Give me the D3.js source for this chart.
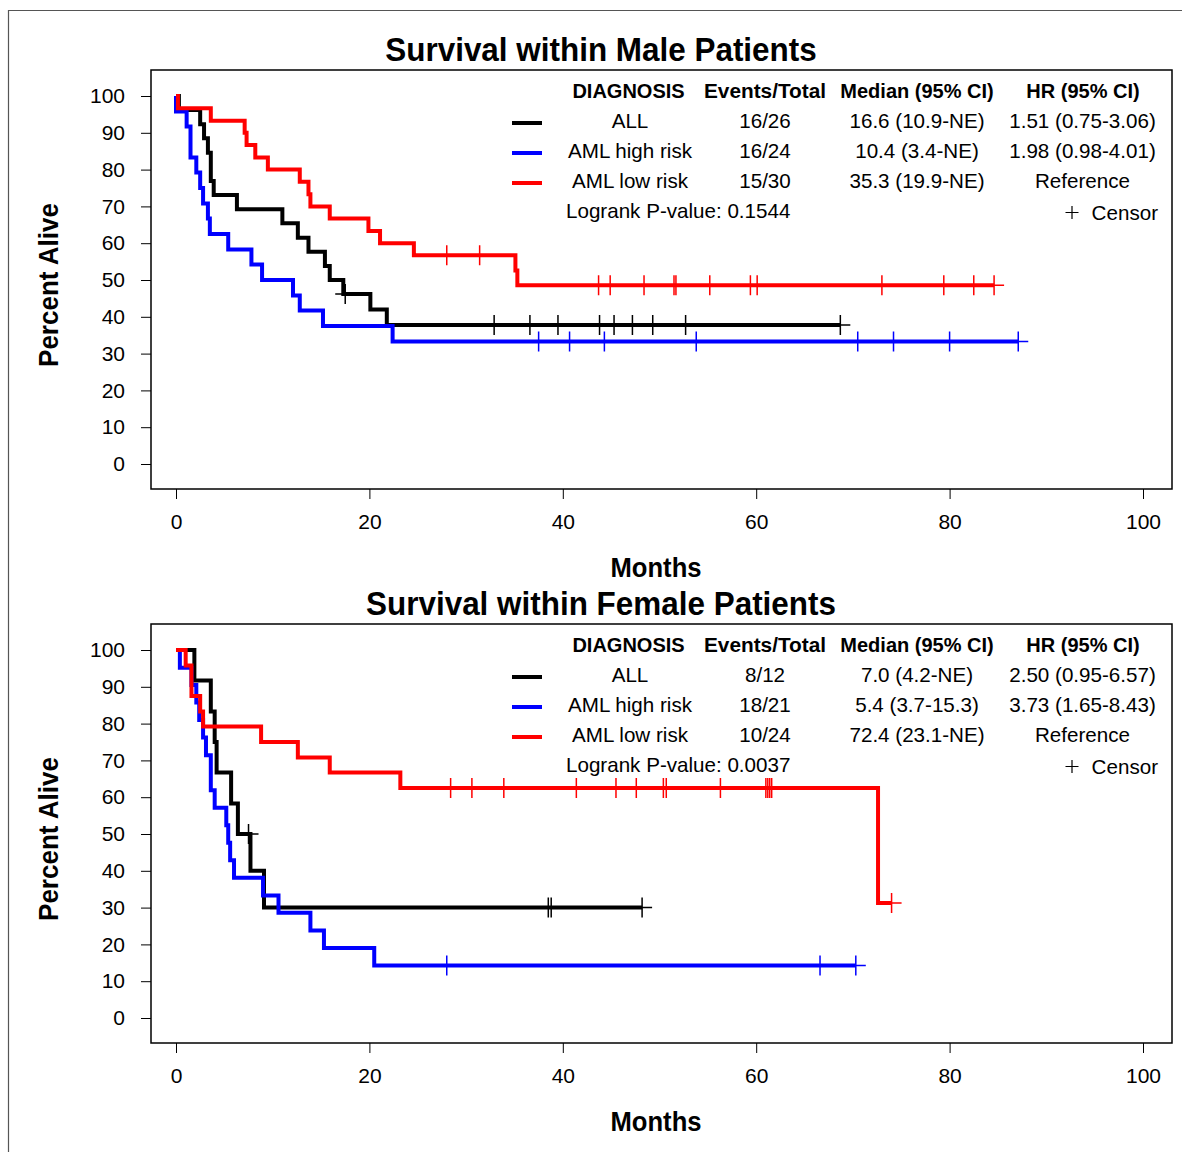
<!DOCTYPE html>
<html><head><meta charset="utf-8">
<script src="https://cdn.jsdelivr.net/npm/d3@7"></script>
<style>
body{margin:0;background:#fff}
svg{display:block}
text{font-family:"Liberation Sans",Arial,Helvetica,sans-serif;fill:#000}
</style>
</head><body>
<svg id="chart" width="1182" height="1152"></svg>
<script>
// ---------------- DATA ----------------
const groups = ["ALL", "AML high risk", "AML low risk"];
const xTicks = [0, 20, 40, 60, 80, 100];
const yTicks = [0, 10, 20, 30, 40, 50, 60, 70, 80, 90, 100];
const legendHeaders = ["DIAGNOSIS", "Events/Total", "Median (95% CI)", "HR (95% CI)"];
const panelTitles = ["Survival within Male Patients", "Survival within Female Patients"];

// Male patients: event times (months) and survival (%) after each event; censor times
const maleAllTimes = [0.3, 2.5, 2.9, 3.3, 3.6, 3.9, 6.3, 11.0, 12.6, 13.7, 15.4, 15.9, 17.3, 20.1, 21.8];
const maleAllSurv  = [96.2, 92.3, 88.5, 84.6, 76.9, 73.1, 69.2, 65.4, 61.5, 57.7, 53.8, 50.0, 46.2, 42.0, 37.8];
const maleAllCensor = [17.5, 32.9, 36.6, 39.5, 43.8, 45.3, 47.2, 49.3, 52.7, 68.7];

const maleHighTimes = [0.0, 1.1, 1.5, 2.1, 2.5, 2.8, 3.3, 3.5, 5.4, 7.8, 8.9, 12.1, 12.8, 15.2, 22.4];
const maleHighSurv  = [95.8, 91.7, 83.3, 79.2, 75.0, 70.8, 66.7, 62.5, 58.3, 54.2, 50.0, 45.8, 41.7, 37.5, 33.3];
const maleHighCensor = [37.5, 40.7, 44.3, 53.8, 70.5, 74.2, 80.0, 87.1];

const maleLowTimes = [0.2, 3.6, 7.1, 7.3, 8.2, 9.5, 12.8, 13.7, 13.9, 15.9, 19.9, 21.1, 24.6, 35.1, 35.3];
const maleLowSurv  = [96.7, 93.3, 90.0, 86.7, 83.3, 80.0, 76.7, 73.3, 70.0, 66.7, 63.3, 60.0, 56.7, 52.6, 48.6];
const maleLowCensor = [28.0, 31.4, 43.7, 44.9, 48.4, 51.5, 51.7, 55.2, 59.4, 60.1, 73.0, 79.4, 82.5, 84.6];

const maleEvents = ["16/26", "16/24", "15/30"];
const maleMedian = ["16.6 (10.9-NE)", "10.4 (3.4-NE)", "35.3 (19.9-NE)"];
const maleHR = ["1.51 (0.75-3.06)", "1.98 (0.98-4.01)", "Reference"];
const maleLogrank = "0.1544";

// Female patients
const femAllTimes = [1.9, 3.6, 4.0, 4.2, 5.7, 6.4, 7.7, 9.1];
const femAllSurv  = [91.7, 83.3, 75.0, 66.7, 58.3, 50.0, 40.0, 30.0];
const femAllCensor = [7.5, 38.5, 38.8, 48.2];

const femHighTimes = [0.4, 1.6, 2.1, 2.4, 2.8, 3.1, 3.6, 4.0, 5.2, 5.4, 5.6, 6.0, 9.0, 10.6, 13.9, 15.3, 20.5];
const femHighSurv  = [95.2, 90.5, 85.7, 81.0, 76.2, 71.4, 61.9, 57.1, 52.4, 47.6, 42.9, 38.1, 33.3, 28.6, 23.8, 19.0, 14.3];
const femHighCensor = [28.0, 66.6, 70.3];

const femLowTimes = [1.0, 1.6, 2.5, 2.8, 8.8, 12.6, 15.9, 23.2, 72.6];
const femLowSurv  = [95.8, 87.5, 83.3, 79.2, 75.0, 70.8, 66.7, 62.5, 31.25];
const femLowCensor = [28.4, 30.6, 33.9, 41.4, 45.5, 47.6, 50.4, 50.7, 56.3, 61.0, 61.2, 61.4, 61.6, 74.0];

const femEvents = ["8/12", "18/21", "10/24"];
const femMedian = ["7.0 (4.2-NE)", "5.4 (3.7-15.3)", "72.4 (23.1-NE)"];
const femHR = ["2.50 (0.95-6.57)", "3.73 (1.65-8.43)", "Reference"];
const femLogrank = "0.0037";

// ---------------- STYLE ----------------
const colors = ["#000000", "#0000ff", "#ff0000"];

const svg = d3.select("#chart");

// outer frame (left and top edges)
svg.append("path").attr("d", "M8.5,1152 L8.5,10.5 L1182,10.5")
  .attr("fill", "none").attr("stroke", "#555").attr("stroke-width", 1.2);

function stxt(g, x, y, str, size, weight, anchor, sx, rot) {
  const t = g.append("text")
    .attr("transform", `translate(${x},${y})` + (rot ? ` rotate(${rot})` : "") + ` scale(${sx || 1},1)`)
    .attr("font-size", size).attr("font-weight", weight || "normal")
    .attr("text-anchor", anchor || "start").text(str);
  return t;
}

function drawPanel(off, title, series, events, median, hr, logrank) {
  const g = svg.append("g").attr("transform", `translate(0,${off})`);
  const x = d3.scaleLinear().domain([0, 100]).range([176, 1143]);
  const y = d3.scaleLinear().domain([0, 100]).range([464, 96]);

  // plot box
  g.append("rect").attr("x", 151).attr("y", 70).attr("width", 1021).attr("height", 419)
    .attr("fill", "none").attr("stroke", "#000").attr("stroke-width", 1.5);

  // axes
  const xa = g.append("g").attr("transform", "translate(0,489)")
    .call(d3.axisBottom(x).tickValues(xTicks).tickSize(10).tickPadding(15).tickFormat(d3.format("d")));
  const ya = g.append("g").attr("transform", "translate(151,0)")
    .call(d3.axisLeft(y).tickValues(yTicks).tickSize(10).tickPadding(16).tickFormat(d3.format("d")));
  [xa, ya].forEach(a => {
    a.select(".domain").remove();
    a.selectAll("line").attr("stroke", "#000").attr("stroke-width", 1);
    a.selectAll("text").attr("font-size", 21).attr("font-family", '"Liberation Sans",Arial,sans-serif').attr("fill", "#000");
  });

  // titles
  stxt(g, 601, 61, title, 34, "bold", "middle", 0.925);
  stxt(g, 656, 577, "Months", 28, "bold", "middle", 0.915);
  stxt(g, 58, 285, "Percent Alive", 28, "bold", "middle", 0.93, -90);

  // curves
  const line = d3.line().x(d => x(d[0])).y(d => y(d[1])).curve(d3.curveStepAfter);
  series.forEach((s, i) => {
    const pts = [[0, 100]];
    s.times.forEach((t, k) => pts.push([t, s.surv[k]]));
    const endT = Math.max(s.times[s.times.length - 1], d3.max(s.censor));
    pts.push([endT, s.surv[s.surv.length - 1]]);
    g.append("path").attr("d", line(pts)).attr("fill", "none")
      .attr("stroke", colors[i]).attr("stroke-width", 4).attr("stroke-linejoin", "miter");
    const survAt = c => { let v = 100; s.times.forEach((t, k) => { if (t <= c) v = s.surv[k]; }); return v; };
    s.censor.forEach(c => {
      const cx = x(c), cy = y(survAt(c));
      g.append("path").attr("d", `M${cx},${cy - 10}V${cy + 10}M${cx - 10},${cy}H${cx + 10}`)
        .attr("stroke", colors[i]).attr("stroke-width", 1.5).attr("fill", "none");
    });
  });

  // legend
  const hx = [628.5, 765, 917, 1083];
  legendHeaders.forEach((h, i) => stxt(g, hx[i], 98, h, 20, "bold", "middle", i === 1 ? 1.04 : 1));
  groups.forEach((grp, i) => {
    const yy = 128 + 30 * i;
    g.append("line").attr("x1", 512).attr("x2", 542).attr("y1", yy - 5).attr("y2", yy - 5)
      .attr("stroke", colors[i]).attr("stroke-width", 4);
    stxt(g, 630, yy, grp, 20.6, "normal", "middle", 1);
    stxt(g, 765, yy, events[i], 20.6, "normal", "middle", 1);
    stxt(g, 917, yy, median[i], 20.6, "normal", "middle", 1);
    stxt(g, 1082.5, yy, hr[i], 20.6, "normal", "middle", 1);
  });
  stxt(g, 566, 218, "Logrank P-value: " + logrank, 20.6, "normal", "start", 1);
  g.append("path").attr("d", "M1072,206V219M1065.5,212.5H1078.5").attr("stroke", "#000").attr("stroke-width", 1.2);
  stxt(g, 1158, 220, "Censor", 20.6, "normal", "end", 1);
}

drawPanel(0, panelTitles[0], [
  {times: maleAllTimes, surv: maleAllSurv, censor: maleAllCensor},
  {times: maleHighTimes, surv: maleHighSurv, censor: maleHighCensor},
  {times: maleLowTimes, surv: maleLowSurv, censor: maleLowCensor}
], maleEvents, maleMedian, maleHR, maleLogrank);

drawPanel(554, panelTitles[1], [
  {times: femAllTimes, surv: femAllSurv, censor: femAllCensor},
  {times: femHighTimes, surv: femHighSurv, censor: femHighCensor},
  {times: femLowTimes, surv: femLowSurv, censor: femLowCensor}
], femEvents, femMedian, femHR, femLogrank);
</script>
</body></html>
